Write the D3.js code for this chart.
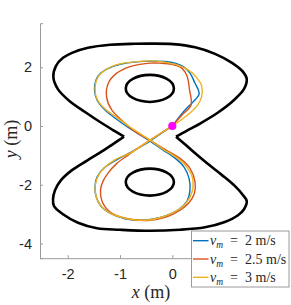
<!DOCTYPE html>
<html>
<head>
<meta charset="utf-8">
<script src="https://cdn.jsdelivr.net/npm/d3@7"></script>
<style>
  html, body { margin: 0; padding: 0; background: #fff; }
  svg { display: block; }
</style>
</head>
<body>
<svg id="chart"></svg>
<script>
// Track outline (outer figure-eight), split at the two notches
const topLobeX = [-0.923, -1.134, -1.382, -1.669, -1.956, -2.185, -2.275, -2.224, -2.090, -1.918, -1.612, -1.191, -0.713, -0.426, 0.013, 0.434, 0.816, 1.141, 1.352, 1.423, 1.371, 1.180, 0.874, 0.530, 0.281, 0.071]
const topLobeY = [-0.365, -0.137, 0.137, 0.478, 0.836, 1.246, 1.672, 2.048, 2.321, 2.491, 2.662, 2.765, 2.799, 2.805, 2.788, 2.679, 2.457, 2.150, 1.843, 1.604, 1.263, 0.887, 0.461, 0.085, -0.154, -0.365]
const bottomLobeX = [0.071, 0.224, 0.453, 0.683, 0.950, 1.199, 1.352, 1.423, 1.371, 1.256, 0.989, 0.625, 0.147, -0.426, -1.000, -1.440, -1.803, -2.090, -2.262, -2.281, -2.243, -2.128, -1.918, -1.631, -1.382, -1.134, -0.923]
const bottomLobeY = [-0.365, -0.597, -0.956, -1.297, -1.672, -2.048, -2.355, -2.560, -2.833, -3.038, -3.276, -3.447, -3.532, -3.567, -3.532, -3.481, -3.293, -3.003, -2.730, -2.491, -2.184, -1.843, -1.502, -1.177, -0.904, -0.614, -0.365]

// Inner obstacles (centre x, centre y, radius)
const holeX = [-0.43, -0.43]
const holeY = [1.28, -1.91]
const holeR = [0.46, 0.46]

// Trajectories
const blueX = [0, 0.243, 0.402, 0.511, 0.497, 0.434, 0.338, 0.210, 0.052, -0.140, -0.426, -0.675, -0.904, -1.153, -1.363, -1.459, -1.488, -1.440, -1.306, -1.096, -0.828, -0.426, -0.178, 0.052, 0.224, 0.319, 0.338, 0.281, 0.128, -0.120, -0.388, -0.656, -0.904, -1.153, -1.363, -1.459, -1.478, -1.440, -1.306, -1.076, -0.809, -0.426, -0.216, 0]
const blueY = [0, 0.546, 0.829, 1.082, 1.229, 1.457, 1.799, 2.024, 2.140, 2.195, 2.208, 2.184, 2.133, 2.014, 1.809, 1.570, 1.229, 0.887, 0.580, 0.273, -0.068, -0.512, -0.819, -1.092, -1.399, -1.775, -2.184, -2.560, -2.833, -3.055, -3.174, -3.208, -3.157, -3.003, -2.730, -2.389, -2.048, -1.741, -1.433, -1.160, -0.904, -0.512, -0.256, 0]
const orangeX = [0, 0.185, 0.358, 0.329, 0.281, 0.185, -0.006, -0.235, -0.426, -0.618, -0.809, -1.063, -1.224, -1.258, -1.159, -0.937, -0.732, -0.426, -0.172, 0.147, 0.338, 0.434, 0.421, 0.306, 0.147, -0.107, -0.426, -0.872, -1.191, -1.344, -1.373, -1.325, -1.229, -1.076, -0.847, -0.426, -0.216, 0]
const orangeY = [0, 0.375, 0.717, 1.229, 1.706, 1.962, 2.099, 2.140, 2.140, 2.099, 2.024, 1.799, 1.457, 1.000, 0.546, 0.147, -0.171, -0.478, -0.761, -1.102, -1.444, -1.901, -2.297, -2.638, -2.867, -3.096, -3.208, -3.150, -2.925, -2.560, -2.184, -1.877, -1.604, -1.297, -0.990, -0.478, -0.239, 0]
const yellowX = [0, 0.166, 0.338, 0.472, 0.560, 0.560, 0.453, 0.300, 0.090, -0.178, -0.426, -0.713, -1.000, -1.249, -1.421, -1.478, -1.440, -1.306, -1.076, -0.809, -0.426, -0.178, 0.071, 0.262, 0.377, 0.396, 0.338, 0.205, -0.006, -0.273, -0.522, -0.809, -1.096, -1.325, -1.440, -1.478, -1.440, -1.306, -1.076, -0.809, -0.426, -0.216, 0]
const yellowY = [0, 0.205, 0.444, 0.683, 0.990, 1.365, 1.672, 1.911, 2.082, 2.184, 2.218, 2.184, 2.116, 1.945, 1.672, 1.297, 0.922, 0.614, 0.307, -0.034, -0.478, -0.785, -1.058, -1.365, -1.706, -2.082, -2.423, -2.730, -2.969, -3.140, -3.208, -3.174, -3.038, -2.799, -2.491, -2.150, -1.775, -1.433, -1.126, -0.922, -0.478, -0.239, 0]

const seriesNames = ['2', '2.5', '3']
const seriesColors = ['#0072BD', '#D95319', '#EDB120']

const startX = [0]
const startY = [0]

const xTicks = [-2, -1, 0]
const yTicks = [-4, -2, 0, 2]

const width = 291
const height = 305

const svg = d3.select('#chart')
  .attr('width', width)
  .attr('height', height)

const x = d3.scaleLinear().domain([-2.53, 1.55]).range([40, 253.4])
const y = d3.scaleLinear().domain([-4.5, 3.5]).range([258.2, 23.2])

const axisColor = '#9a9a9a'
const textColor = '#262626'
const sans = "'Liberation Sans', Arial, sans-serif"
const serif = "'Liberation Serif', 'DejaVu Serif', serif"

// Axes (box off, inward ticks)
const xAxis = svg.append('g')
  .attr('transform', `translate(0,${y.range()[0]})`)
  .call(d3.axisBottom(x).tickValues(xTicks).tickSize(-3).tickPadding(11).tickFormat(d3.format('d')))
const yAxis = svg.append('g')
  .attr('transform', `translate(${x.range()[0]},0)`)
  .call(d3.axisLeft(y).tickValues(yTicks).tickSize(-3).tickPadding(8).tickFormat(d3.format('d')))

;[xAxis, yAxis].forEach(g => {
  g.select('.domain').attr('stroke', axisColor).attr('stroke-width', 1)
  g.selectAll('.tick line').attr('stroke', axisColor)
  g.selectAll('.tick text')
    .attr('fill', textColor)
    .style('font-family', sans)
    .style('font-size', '14.5px')
    .text(d => d < 0 ? '-' + Math.abs(d) : d)
})

// Track outline
const line = d3.line()
  .x(d => x(d[0]))
  .y(d => y(d[1]))
  .curve(d3.curveCatmullRom.alpha(0.5))

const outline = [
  d3.zip(topLobeX, topLobeY),
  d3.zip(bottomLobeX, bottomLobeY)
]

svg.append('g')
  .selectAll('path')
  .data(outline)
  .join('path')
  .attr('d', line)
  .attr('fill', 'none')
  .attr('stroke', '#000')
  .attr('stroke-width', 2.6)
  .attr('stroke-linejoin', 'miter')

svg.append('g')
  .selectAll('ellipse')
  .data(d3.range(holeX.length))
  .join('ellipse')
  .attr('cx', i => x(holeX[i]))
  .attr('cy', i => y(holeY[i]))
  .attr('rx', i => x(holeX[i] + holeR[i]) - x(holeX[i]))
  .attr('ry', i => y(holeY[i] - holeR[i]) - y(holeY[i]))
  .attr('fill', 'none')
  .attr('stroke', '#000')
  .attr('stroke-width', 2.6)

// Trajectories
const runs = [
  d3.zip(blueX, blueY),
  d3.zip(orangeX, orangeY),
  d3.zip(yellowX, yellowY)
]

svg.append('g')
  .selectAll('path')
  .data(runs)
  .join('path')
  .attr('d', line)
  .attr('fill', 'none')
  .attr('stroke', (d, i) => seriesColors[i])
  .attr('stroke-width', 1.4)
  .attr('stroke-linejoin', 'round')

// Start point
svg.append('g')
  .selectAll('circle')
  .data(d3.zip(startX, startY))
  .join('circle')
  .attr('cx', d => x(d[0]))
  .attr('cy', d => y(d[1]))
  .attr('r', 3.5)
  .attr('fill', '#ff00ff')
  .attr('stroke', '#ff00ff')
  .attr('stroke-width', 1.2)

// Axis labels
const xLabel = svg.append('text')
  .attr('x', 151)
  .attr('y', 298)
  .attr('text-anchor', 'middle')
  .attr('fill', textColor)
  .style('font-family', serif)
  .style('font-size', '18px')
xLabel.append('tspan').style('font-style', 'italic').text('x')
xLabel.append('tspan').text(' (m)')

const yLabel = svg.append('text')
  .attr('transform', 'translate(17,139) rotate(-90)')
  .attr('text-anchor', 'middle')
  .attr('fill', textColor)
  .style('font-family', serif)
  .style('font-size', '18px')
yLabel.append('tspan').style('font-style', 'italic').text('y')
yLabel.append('tspan').text(' (m)')

// Legend
const legend = svg.append('g').attr('transform', 'translate(191.5,231)')
legend.append('rect')
  .attr('width', 97.5)
  .attr('height', 56)
  .attr('fill', '#fff')
  .attr('stroke', axisColor)
  .attr('stroke-width', 1)

const entry = legend.selectAll('g')
  .data(seriesNames)
  .join('g')
  .attr('transform', (d, i) => `translate(0,${9.7 + i * 18.3})`)

entry.append('line')
  .attr('x1', 1.5)
  .attr('x2', 17)
  .attr('stroke', (d, i) => seriesColors[i])
  .attr('stroke-width', 1.4)

const label = entry.append('text')
  .attr('x', 18.5)
  .attr('y', 4.5)
  .attr('fill', textColor)
  .style('font-family', serif)
  .style('font-size', '14px')
label.append('tspan').style('font-style', 'italic').text('v')
label.append('tspan').style('font-style', 'italic').style('font-size', '9.5px').attr('dy', 3).text('m')
label.append('tspan').attr('dy', -3).text(d => `\u2002=\u2002${d} m/s`)
</script>
</body>
</html>
